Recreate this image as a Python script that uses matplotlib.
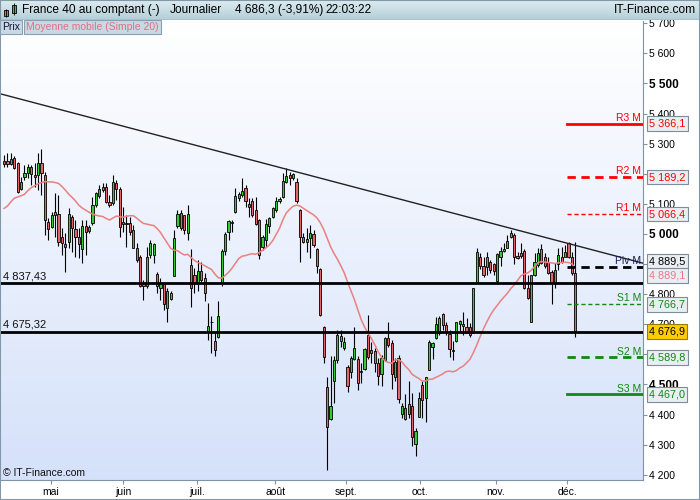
import numpy as np
import pandas as pd
import matplotlib
matplotlib.use("Agg")
import matplotlib.pyplot as plt
from matplotlib.patches import Rectangle
from matplotlib.transforms import blended_transform_factory

plt.rcParams['font.family'] = ['Liberation Sans', 'DejaVu Sans']

# daily candles (open, high, low, close)
opens = [5243, 5243, 5232, 5251, 5235, 5151, 5188, 5201, 5221, 5196,
         5196, 5237, 5196, 5041, 5024, 5074, 5068, 4989, 4967, 4974,
         5057, 5015, 4991, 4949, 5026, 5010, 5035, 5096, 5126, 5146,
         5157, 5107, 5102, 5168, 5148, 5041, 5037, 5035, 5013, 4952,
         4925, 4838, 4827, 4930, 4930, 4866, 4820, 4834, 4753, 4783,
         4859, 5025, 5071, 5063, 5002, 4897, 4864, 4836, 4877, 4853,
         4679, 4707, 4643, 4657, 4839, 4942, 5008, 5036, 5072, 5119,
         5130, 5152, 5099, 5108, 5080, 5047, 4956, 4980, 5025, 5056,
         5080, 5108, 5122, 5174, 5196, 5185, 5174, 5080, 4989, 4975,
         4986, 5000, 4949, 4883, 4692, 4491, 4384, 4510, 4582, 4646,
         4620, 4557, 4540, 4584, 4584, 4546, 4551, 4665, 4606, 4612,
         4573, 4535, 4582, 4654, 4637, 4526, 4587, 4402, 4421, 4402,
         4429, 4303, 4391, 4499, 4454, 4548, 4626, 4654, 4670, 4733,
         4698, 4669, 4614, 4646, 4701, 4701, 4692, 4692, 4670, 4842,
         4922, 4894, 4891, 4908, 4900, 4845, 4922, 4945, 4952, 4989,
         4997, 4927, 4936, 4945, 4820, 4709, 4864, 4897, 4949, 4925,
         4908, 4875, 4838, 4900, 4925, 4922, 4971, 4925, 4870]
highs = [5262, 5268, 5270, 5259, 5240, 5190, 5229, 5232, 5229, 5235,
         5268, 5284, 5207, 5052, 5074, 5135, 5129, 5019, 5002, 5085,
         5063, 5046, 5019, 5046, 5046, 5030, 5124, 5140, 5163, 5168,
         5168, 5129, 5196, 5179, 5157, 5091, 5063, 5055, 5030, 4969,
         4930, 4847, 4958, 4980, 4971, 4875, 4853, 4842, 4820, 4809,
         5014, 5080, 5080, 5063, 5097, 4949, 4886, 4914, 4908, 4870,
         4772, 4726, 4670, 4776, 4949, 5008, 5047, 5047, 5152, 5141,
         5185, 5163, 5119, 5119, 5124, 5049, 4997, 5049, 5058, 5091,
         5124, 5124, 5202, 5218, 5207, 5204, 5185, 5082, 5002, 5019,
         5030, 5013, 4952, 4886, 4694, 4526, 4593, 4593, 4681, 4681,
         4659, 4565, 4593, 4690, 4593, 4573, 4620, 4731, 4642, 4620,
         4587, 4598, 4659, 4709, 4648, 4587, 4598, 4440, 4469, 4510,
         4471, 4355, 4476, 4510, 4526, 4648, 4642, 4723, 4728, 4737,
         4709, 4681, 4646, 4709, 4714, 4742, 4720, 4703, 4820, 4952,
         4936, 4925, 4941, 4914, 4903, 4936, 4958, 4969, 4997, 5013,
         5002, 4941, 4971, 4949, 4864, 4864, 4936, 4952, 4967, 4936,
         4922, 4880, 4903, 4952, 4958, 4963, 4975, 4941, 4975]
lows = [5223, 5223, 5229, 5215, 5135, 5146, 5179, 5185, 5163, 5157,
        5146, 5129, 4997, 4980, 5019, 4991, 4960, 4930, 4875, 4952,
        4941, 4925, 4919, 4902, 4930, 5002, 5030, 5091, 5118, 5140,
        5102, 5091, 5096, 5113, 4991, 5008, 4958, 4997, 4952, 4908,
        4825, 4781, 4819, 4919, 4902, 4803, 4781, 4748, 4709, 4781,
        4859, 5019, 5014, 5000, 4980, 4759, 4805, 4809, 4836, 4776,
        4648, 4604, 4593, 4654, 4828, 4930, 4980, 5008, 5069, 5108,
        5124, 5091, 5058, 5058, 5030, 4916, 4947, 4958, 5002, 5052,
        5074, 5102, 5119, 5169, 5163, 5180, 5102, 4908, 4969, 4941,
        4919, 4958, 4872, 4728, 4573, 4216, 4382, 4438, 4570, 4626,
        4615, 4476, 4521, 4582, 4482, 4504, 4548, 4584, 4573, 4543,
        4499, 4495, 4579, 4626, 4484, 4510, 4438, 4388, 4382, 4388,
        4294, 4263, 4391, 4388, 4377, 4548, 4584, 4650, 4665, 4681,
        4665, 4590, 4580, 4640, 4676, 4665, 4670, 4659, 4670, 4836,
        4883, 4858, 4864, 4869, 4864, 4834, 4892, 4941, 4952, 4986,
        4900, 4916, 4919, 4816, 4783, 4709, 4861, 4891, 4900, 4886,
        4867, 4768, 4820, 4880, 4905, 4922, 4919, 4864, 4657]
closes = [5232, 5234, 5248, 5218, 5140, 5174, 5201, 5221, 5199, 5190,
          5237, 5201, 5046, 5015, 5063, 5063, 4974, 4969, 4956, 5068,
          5019, 4991, 4967, 5026, 5008, 5024, 5096, 5135, 5148, 5157,
          5107, 5096, 5174, 5148, 5022, 5033, 5033, 5008, 4952, 4913,
          4827, 4827, 4925, 4969, 4967, 4827, 4836, 4768, 4809, 4803,
          4986, 5067, 5019, 5014, 5067, 4820, 4836, 4877, 4847, 4805,
          4693, 4709, 4613, 4728, 4945, 5000, 5043, 5041, 5126, 5132,
          5144, 5108, 5091, 5063, 5032, 4930, 4989, 5032, 5052, 5085,
          5108, 5116, 5177, 5191, 5185, 5200, 5111, 4989, 4975, 4982,
          5002, 4963, 4894, 4731, 4590, 4358, 4427, 4582, 4665, 4661,
          4640, 4495, 4587, 4620, 4506, 4543, 4617, 4590, 4613, 4573,
          4528, 4587, 4654, 4631, 4535, 4576, 4451, 4427, 4384, 4435,
          4325, 4344, 4454, 4449, 4526, 4642, 4639, 4701, 4720, 4698,
          4679, 4617, 4612, 4706, 4712, 4694, 4672, 4664, 4820, 4941,
          4894, 4864, 4922, 4880, 4878, 4934, 4944, 4949, 4978, 5004,
          4925, 4919, 4927, 4820, 4786, 4864, 4908, 4938, 4903, 4894,
          4869, 4836, 4880, 4930, 4908, 4941, 4922, 4870, 4677]

# moving average values before 20 candles are on the chart
ma_head = [5085, 5093, 5107, 5119, 5123, 5127, 5132, 5144, 5154, 5160,
           5167, 5171, 5174, 5173, 5173, 5171, 5168, 5158, 5146]

months = ["mai", "juin", "juil.", "août", "sept.", "oct.", "nov.", "déc."]
month_pos = [13.8, 35.0, 56.8, 79.7, 100.6, 122.4, 144.6, 165.6]

# horizontal supports
supports = [4837.43, 4675.32]
support_labels = ["4 837,43", "4 675,32"]

# monthly pivots
piv_names = ["R3 M", "R2 M", "R1 M", "Piv M", "S1 M", "S2 M", "S3 M"]
piv_values = [5366.1, 5189.2, 5066.4, 4889.5, 4766.7, 4589.8, 4467.0]
piv_colors = ["#ff0000", "#ff0000", "#ff0000", "#000000", "#118811", "#118811", "#118811"]
piv_styles = ["-", "--", "--", "--", "--", "--", "-"]
piv_widths = [2.0, 2.0, 1.0, 2.0, 1.0, 2.0, 2.0]

trend_x = [-1.2, 187.9]
trend_y = [5466, 4903]

last_price = 4676.9
ma_last = 4889.1

# axis labels hidden behind value boxes in the original
hidden_ticks = [5200, 4900, 4600]

n = len(closes)
x = np.arange(n)
o = np.array(opens); h = np.array(highs); l = np.array(lows); c = np.array(closes)

ma = pd.Series(closes).rolling(20).mean().to_numpy()
ma[:len(ma_head)] = ma_head

fig = plt.figure(figsize=(7, 5), dpi=100)
fig.patch.set_facecolor("white")

ax = fig.add_axes([0, 20 / 500, 643 / 700, 459 / 500])
xmin, xmax = -1.2, 187.9
ymin, ymax = 4182.7, 5707.6

# background gradient
grad = np.linspace(0, 1, 256).reshape(-1, 1)
top = np.array([1.0, 1.0, 1.0])
bot = np.array([0xd5, 0xe1, 0xfa]) / 255
img = top + (bot - top) * grad[:, :, None] * np.ones((1, 1, 3))
ax.imshow(img, extent=[xmin, xmax, ymin, ymax], aspect="auto", origin="upper", zorder=0)

# candles
up = c >= o
ax.vlines(x, l, h, color="black", linewidth=0.8, zorder=3)
body_h = np.maximum(np.abs(c - o), 2)
ax.bar(x, body_h, bottom=np.minimum(o, c), width=0.62,
       color=np.where(up, "#33cc33", "#e06767"), edgecolor="black", linewidth=0.6, zorder=4)

ax.plot(x, ma, color="#ea8080", linewidth=1.1, zorder=5)
ax.plot(trend_x, trend_y, color="#222222", linewidth=1.0, zorder=5)

for val, lab in zip(supports, support_labels):
    ax.axhline(val, color="black", linewidth=2.0, zorder=6)
    ax.text(3 / 643 * (xmax - xmin) + xmin, val + 6, lab, fontsize=8, color="#111111",
            va="bottom", ha="left", zorder=7)

trans = blended_transform_factory(ax.transAxes, ax.transData)
for name, val, col, ls, lw in zip(piv_names, piv_values, piv_colors, piv_styles, piv_widths):
    ax.plot([month_pos[-1], xmax], [val, val], color=col, linestyle=ls, linewidth=lw,
            zorder=6, dashes=(3, 2) if ls == "--" else (None, None))
    tcol = "#1a1a55" if name.startswith("Piv") else col
    ax.text(0.997, val + 3, name, transform=trans, fontsize=7.5, color=tcol,
            ha="right", va="bottom", zorder=7)

ax.set_xlim(xmin, xmax)
ax.set_ylim(ymin, ymax)

yt = list(range(4200, 5800, 100))
ax.yaxis.tick_right()
ax.set_yticks(yt, labels=["" if v in hidden_ticks else f"{v:,}".replace(",", " ") for v in yt])
for t, v in zip(ax.get_yticklabels(), yt):
    if v % 500 == 0:
        t.set_fontweight("bold")
        t.set_fontsize(8.5)
    else:
        t.set_fontsize(7.5)
ax.tick_params(axis="y", length=3, width=0.8, color="#7f93a8", pad=1, labelcolor="black")

ax.set_xticks(month_pos, labels=months)
ax.tick_params(axis="x", length=3, width=0.8, color="#7f93a8", labelsize=7.5, pad=2)

for s in ["top", "left"]:
    ax.spines[s].set_visible(False)
ax.spines["right"].set_color("#7f93a8")
ax.spines["bottom"].set_color("#7f93a8")

# value boxes on the right axis
def value_box(y, txt, col, fc="#e9eef3", ec="#7d8c99"):
    ax.text(1.0095, y, txt, transform=trans, fontsize=7.8, color=col, ha="left", va="center",
            clip_on=False, zorder=10,
            bbox=dict(boxstyle="square,pad=0.22", fc=fc, ec=ec, lw=0.8))

box_pos = [5366.1, 5189.2, 5066.4, 4908, 4766.7, 4589.8, 4467.0]
for val, pos, col in zip(piv_values, box_pos, piv_colors):
    value_box(pos, f"{val:,.1f}".replace(",", " ").replace(".", ","), col)
value_box(4861, f"{ma_last:,.1f}".replace(",", " ").replace(".", ","), "#e87a8a")
value_box(last_price, f"{last_price:,.1f}".replace(",", " ").replace(".", ","), "black",
          fc="#ffcc00", ec="#9a7a00")

ax.text(0.005, 0.004, "© IT-Finance.com", transform=ax.transAxes, fontsize=7.5,
        color="#111111", ha="left", va="bottom", zorder=8)

# header bar
hax = fig.add_axes([0, 480 / 500, 1, 20 / 500])
hgrad = np.linspace(0, 1, 64).reshape(-1, 1)
htop = np.array([0xdd, 0xec, 0xf0]) / 255
hbot = np.array([0xb3, 0xce, 0xd8]) / 255
himg = htop + (hbot - htop) * hgrad[:, :, None] * np.ones((1, 1, 3))
hax.imshow(himg, extent=[0, 700, 0, 20], aspect="auto", origin="upper")
hax.set_xlim(0, 700)
hax.set_ylim(0, 20)
hax.axis("off")
hax.axhline(0.3, color="#7f93a8", linewidth=1)
hax.add_patch(Rectangle((3.5, 4), 4, 6, fc="#e06767", ec="black", lw=0.6))
hax.vlines(5.5, 3, 11, color="black", lw=0.6)
hax.add_patch(Rectangle((11.5, 7), 4, 8, fc="#33cc33", ec="black", lw=0.6))
hax.vlines(13.5, 5, 17, color="black", lw=0.6)
hdr_font = dict(fontsize=8.6, color="black", va="center", ha="left")
hax.text(22.5, 10, "France 40 au comptant (-)", **hdr_font)
hax.text(170, 10, "Journalier", **hdr_font)
hax.text(235, 10, "4 686,3 (-3,91%)", **hdr_font)
hax.text(325, 10, "22:03:22", **hdr_font)
hax.text(696, 10, "IT-Finance.com", fontsize=8.6, color="black", va="center", ha="right")

# legend row
fig.text(2 / 700, 1 - 27 / 500, "Prix", fontsize=7.5, color="#111133", va="center", ha="left",
         bbox=dict(boxstyle="square,pad=0.2", fc="#c8d9e6", ec="#8aa0b0", lw=0.8))
fig.text(26 / 700, 1 - 27 / 500, "Moyenne mobile (Simple 20)", fontsize=7.5, color="#e07080",
         va="center", ha="left",
         bbox=dict(boxstyle="square,pad=0.2", fc="#c8d9e6", ec="#8aa0b0", lw=0.8))

# outer frame
fig.add_artist(Rectangle((0, 0), 1, 1, transform=fig.transFigure, fill=False,
                         ec="#8098a8", lw=1.5))

fig.savefig("out.png", dpi=100)
